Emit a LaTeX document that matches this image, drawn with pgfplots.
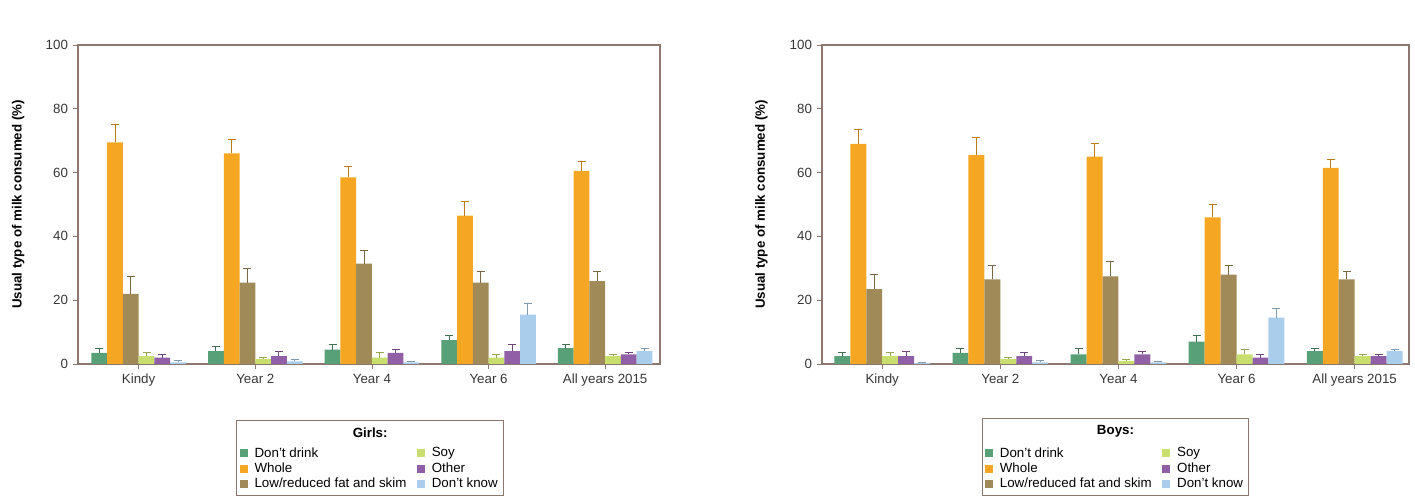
\documentclass[border=0pt]{standalone}
\usepackage{fontspec}
\setmainfont{Liberation Sans}
\usepackage{pgfplots}
\usepackage{pgfplotstable}
\pgfplotsset{compat=1.18}
\usetikzlibrary{fit}

\definecolor{cDD}{RGB}{88,160,120}
\definecolor{cWH}{RGB}{245,166,35}
\definecolor{cLO}{RGB}{160,138,88}
\definecolor{cSO}{RGB}{200,222,110}
\definecolor{cOT}{RGB}{145,95,165}
\definecolor{cDK}{RGB}{170,205,235}
\definecolor{frame}{RGB}{140,120,110}
\definecolor{txt}{RGB}{55,55,55}

\pgfplotstableread{
x dd dde wh whe lo loe so soe ot ote dk dke
0 3.5 1.5 69.5 5.5 22.0 5.5 2.5 1.0 2.0 1.0 0.5 0.5
1 4.0 1.5 66.0 4.5 25.5 4.5 1.5 0.5 2.5 1.5 0.8 0.5
2 4.5 1.5 58.5 3.5 31.5 4.0 2.0 1.5 3.5 1.0 0.5 0.3
3 7.5 1.5 46.5 4.5 25.5 3.5 2.0 1.0 4.0 2.0 15.5 3.5
4 5.0 1.0 60.5 3.0 26.0 3.0 2.5 0.5 3.0 0.5 4.0 1.0
}\girls

\pgfplotstableread{
x dd dde wh whe lo loe so soe ot ote dk dke
0 2.5 1.0 69.0 4.5 23.5 4.5 2.5 1.0 2.5 1.5 0.3 0.3
1 3.5 1.5 65.5 5.5 26.5 4.5 1.5 0.5 2.5 1.0 0.5 0.5
2 3.0 2.0 65.0 4.0 27.5 4.5 1.0 0.5 3.0 1.0 0.5 0.3
3 7.0 2.0 46.0 4.0 28.0 3.0 3.0 1.5 2.0 1.0 14.5 3.0
4 4.0 1.0 61.5 2.5 26.5 2.5 2.5 0.5 2.5 0.5 4.0 0.5
}\boys

\pgfplotsset{
  milkaxis/.style={
    scale only axis, height=239.25pt,
    ymin=0, ymax=100, ytick={0,20,40,60,80,100},
    xtick={0,1,2,3,4},
    xticklabels={Kindy,Year 2,Year 4,Year 6,All years 2015},
    tick pos=left, tick align=outside,
    major tick length=4pt,
    axis line style={draw=frame, line width=0.8pt},
    tick style={draw=frame, line width=0.6pt},
    ticklabel style={font=\fontsize{10}{12}\selectfont, text=txt},
    /pgf/number format/assume math mode=true,
    ylabel={Usual type of milk consumed (\%)},
    ylabel style={font=\bfseries\fontsize{10}{12}\selectfont, at={(axis description cs:-0.103,0.5)}, anchor=center},
    ybar=0pt, bar width=0.135,
    legend columns=3, transpose legend,
    legend image code/.code={\fill[##1] (0pt,-3pt) rectangle (6pt,3pt);},
    legend style={font=\fontsize{10}{11.5}\selectfont, draw=none, fill=none,
      cells={anchor=west}, inner sep=1pt, row sep=-1.2pt,
      /tikz/every odd column/.append style={column sep=3pt},
      /tikz/every even column/.append style={column sep=6pt}},
  },
  eb/.style={error bars/.cd, y dir=plus, y explicit,
    error bar style={color=#1, line width=0.7pt},
    error mark options={color=#1, mark size=3pt, line width=0.7pt, rotate=90}},
}

\newcommand{\milkbars}[1]{%
  \addplot[fill=cDD, draw=none, bar shift=-0.3375, eb=cDD!70!black] table[x=x, y=dd, y error=dde] {#1};
  \addlegendentry{Don't drink}
  \addplot[fill=cWH, draw=none, bar shift=-0.2025, eb=cWH!75!black] table[x=x, y=wh, y error=whe] {#1};
  \addlegendentry{Whole}
  \addplot[fill=cLO, draw=none, bar shift=-0.0675, eb=cLO!75!black] table[x=x, y=lo, y error=loe] {#1};
  \addlegendentry{Low/reduced fat and skim}
  \addplot[fill=cSO, draw=none, bar shift=0.0675, eb=cSO!75!black] table[x=x, y=so, y error=soe] {#1};
  \addlegendentry{Soy}
  \addplot[fill=cOT, draw=none, bar shift=0.2025, eb=cOT!75!black] table[x=x, y=ot, y error=ote] {#1};
  \addlegendentry{Other}
  \addplot[fill=cDK, draw=none, bar shift=0.3375, eb=cDK!75!black] table[x=x, y=dk, y error=dke] {#1};
  \addlegendentry{Don't know}
}

\begin{document}
\begin{tikzpicture}
\useasboundingbox (0,0) rectangle (1061.25pt,373.5pt);

\begin{axis}[milkaxis, at={(58.5pt,100.5pt)}, anchor=south west,
  width=436.5pt, xmin=-0.52, xmax=4.47,
  legend style={name=legG, at={(axis description cs:0.502,-0.248)}, anchor=north}]
\milkbars{\girls}
\end{axis}
\node[font=\bfseries\fontsize{10}{12}\selectfont, anchor=south, inner xsep=1pt, inner ysep=4pt] (tG) at (legG.north) {Girls:};
\node[draw=frame, line width=0.8pt, fit=(legG)(tG), inner sep=1pt] {};

\begin{axis}[milkaxis, at={(616.5pt,100.5pt)}, anchor=south west,
  width=440.25pt, xmin=-0.51, xmax=4.46,
  legend style={name=legB, at={(axis description cs:0.5,-0.248)}, anchor=north}]
\milkbars{\boys}
\end{axis}
\node[font=\bfseries\fontsize{10}{12}\selectfont, anchor=south, inner xsep=1pt, inner ysep=4pt] (tB) at (legB.north) {Boys:};
\node[draw=frame, line width=0.8pt, fit=(legB)(tB), inner sep=1pt] {};
\end{tikzpicture}
\end{document}
